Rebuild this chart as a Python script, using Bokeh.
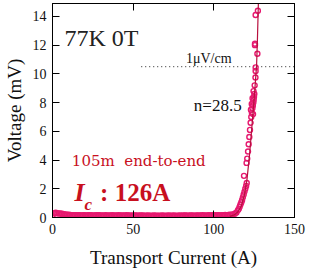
from bokeh.plotting import figure
from bokeh.models import Range1d, FixedTicker, LinearAxis
from bokeh.core.properties import value
from bokeh.embed import file_html
from bokeh.resources import INLINE

# ---- data ----
flat_current = [0, 1, 2, 3, 4, 5, 6, 7, 8, 9, 10, 11, 12, 13, 14, 15, 16, 17, 18, 19,
                20, 21, 22, 23, 24, 25, 26, 27, 28, 29, 30, 31, 32, 33, 34, 35, 36, 37, 38, 39,
                40, 41, 42, 43, 44, 45, 46, 47, 48, 49, 50, 51, 52, 53, 54, 55, 56, 57, 58, 59,
                60, 61, 62, 63, 64, 65, 66, 67, 68, 69, 70, 71, 72, 73, 74, 75, 76, 77, 78, 79,
                80, 81, 82, 83, 84, 85, 86, 87, 88, 89, 90, 91, 92, 93, 94, 95, 96, 97, 98, 99,
                100, 101, 102, 103, 104, 105, 106, 107, 108, 109, 110, 111]
flat_voltage = [0.0, 0.30, 0.32, 0.30, 0.28, 0.27, 0.25, 0.23, 0.21, 0.19, 0.18, 0.17, 0.16, 0.16, 0.15, 0.15, 0.16, 0.15, 0.14, 0.15,
                0.15, 0.14, 0.15, 0.16, 0.15, 0.14, 0.14, 0.15, 0.16, 0.15, 0.14, 0.13, 0.14, 0.15, 0.14, 0.13, 0.14, 0.15, 0.14, 0.13,
                0.14, 0.15, 0.14, 0.13, 0.13, 0.14, 0.15, 0.14, 0.13, 0.12, 0.13, 0.14, 0.13, 0.12, 0.13, 0.14, 0.13, 0.12, 0.12, 0.13,
                0.12, 0.11, 0.12, 0.13, 0.12, 0.11, 0.12, 0.12, 0.13, 0.12, 0.11, 0.12, 0.13, 0.12, 0.12, 0.13, 0.12, 0.11, 0.12, 0.13,
                0.12, 0.13, 0.14, 0.13, 0.12, 0.13, 0.14, 0.13, 0.12, 0.13, 0.14, 0.13, 0.14, 0.15, 0.14, 0.13, 0.14, 0.15, 0.14, 0.15,
                0.14, 0.15, 0.16, 0.15, 0.14, 0.15, 0.16, 0.17, 0.16, 0.17, 0.18, 0.19]
rise_current = [112, 113, 114, 115, 115.5, 116, 116.5, 117, 117.5, 118, 118.5, 119, 119.5, 120, 120.4,
                118.7, 120.3, 120.7, 121.2, 121.6, 122.0, 122.4, 122.8, 123.0, 123.2, 123.5, 123.6, 123.9,
                124.0, 124.2, 124.3, 124.5, 124.6, 124.7, 124.9, 125.1, 125.3, 125.8, 125.9, 125.9,
                127.0, 125.5, 125.5, 125.9, 127.3]
rise_voltage = [0.22, 0.26, 0.35, 0.5, 0.6, 0.75, 0.9, 1.05, 1.2, 1.4, 1.6, 1.8, 2.0, 2.2, 2.4,
                2.9, 3.8, 4.1, 4.6, 5.1, 5.6, 6.1, 6.6, 7.5, 7.0, 7.9, 7.3, 7.6,
                8.3, 7.8, 7.2, 8.0, 8.8, 8.2, 8.4, 8.6, 9.2, 9.75, 10.2, 10.45,
                11.4, 12.0, 12.1, 14.1, 14.4]
fit_current = [110, 113, 115, 117, 119, 120.5, 122, 123.5, 124.8, 125.8, 126.5, 127.0, 127.6]
fit_voltage = [0.08, 0.2, 0.4, 0.8, 1.6, 2.6, 4.2, 6.2, 8.0, 9.5, 10.6, 12.3, 14.9]
criterion_current = [55, 150]
criterion_voltage = [10.5, 10.5]
x_ticks = [0, 50, 100, 150]
y_ticks = [0, 2, 4, 6, 8, 10, 12, 14]

SERIF = "Liberation Serif"
WIDE_SERIF = "DejaVu Serif"
MAGENTA = "#e6186f"
RED = "#c8101e"

p = figure(width=310, height=280, output_backend="svg", toolbar_location=None,
           x_range=Range1d(0, 150), y_range=Range1d(0, 14.9),
           min_border_left=51, min_border_right=16, min_border_top=3, min_border_bottom=63)
p.background_fill_color = "white"
p.border_fill_color = "white"
p.outline_line_color = "black"
p.grid.visible = False

for ax in (p.xaxis[0], p.yaxis[0]):
    ax.major_tick_in = 7
    ax.major_tick_out = 0
    ax.minor_tick_in = 0
    ax.minor_tick_out = 0
    ax.axis_line_color = "black"
    ax.major_tick_line_color = "black"
    ax.major_label_text_font = SERIF
    ax.major_label_text_font_size = "14px"
    ax.major_label_text_color = "#111111"
    ax.axis_label_text_font = SERIF
    ax.axis_label_text_font_size = "19px"
    ax.axis_label_text_font_style = "normal"
    ax.axis_label_text_color = "#111111"

p.xaxis.ticker = FixedTicker(ticks=x_ticks)
p.yaxis.ticker = FixedTicker(ticks=y_ticks)
p.xaxis.axis_label = "Transport Current (A)"
p.yaxis.axis_label = "Voltage (mV)"
p.xaxis.major_label_standoff = 6
p.xaxis.axis_label_standoff = 10
p.yaxis.major_label_standoff = 6
p.yaxis.axis_label_standoff = 5

for loc, ticks in (("right", y_ticks), ("above", x_ticks)):
    ax = LinearAxis(ticker=FixedTicker(ticks=ticks), major_tick_in=7, major_tick_out=0,
                    minor_tick_in=0, minor_tick_out=0, major_label_text_font_size="1px",
                    major_label_text_color=None, major_label_standoff=0,
                    axis_line_color="black")
    p.add_layout(ax, loc)

# criterion line
p.line(criterion_current, criterion_voltage, line_color="#222222", line_width=1, line_dash="1 3")

# measured points
p.scatter(flat_current, flat_voltage, marker="circle", size=5, fill_color=None,
          line_color=MAGENTA, line_width=1.6)
p.scatter(rise_current, rise_voltage, marker="circle", size=5, fill_color=None,
          line_color=MAGENTA, line_width=1.4)

# n-value fit
p.line(fit_current, fit_voltage, line_color="#b8103e", line_width=1.2)

def lab(x, y, text, font=SERIF, size="14px", color="#111111", style="normal"):
    p.text(x=[x], y=[y], text=[text], text_font=value(font), text_font_size=value(size),
           text_color=color, text_font_style=style, text_baseline="alphabetic",
           text_align="left")

lab(7.4, 12.47, "77K 0T", size="24px", color="#222222")
lab(82.7, 11.1, "1\u03bcV/cm", size="14px")
lab(87.6, 7.8, "n=28.5", size="17px")
lab(12.0, 3.9, "105m\u00a0\u00a0end-to-end", font=WIDE_SERIF, size="15px", color=RED)
lab(13.6, 1.74, "I", size="26px", color=RED, style="bold italic")
lab(19.8, 0.9, "c", size="17px", color=RED, style="bold italic")
lab(29.5, 1.74, ": 126A", size="25px", color=RED, style="bold")

open("out.html", "w").write(file_html(p, INLINE))
